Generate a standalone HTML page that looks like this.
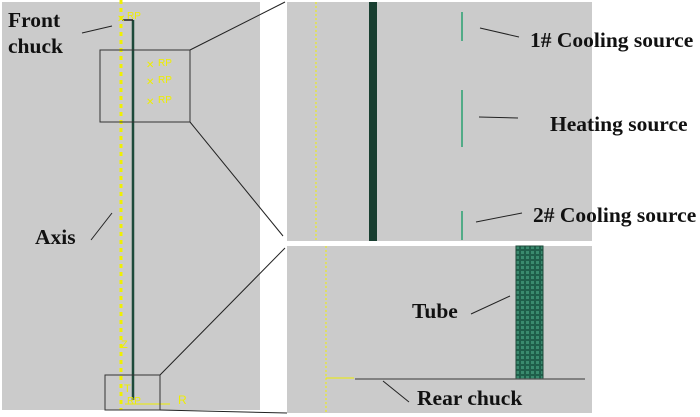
<!DOCTYPE html>
<html><head><style>
body{margin:0;background:#fff;}
svg{display:block;}
text.l{font-family:"Liberation Serif",serif;font-weight:bold;font-size:21.5px;fill:#111;}
text.y{font-family:"Liberation Sans",sans-serif;font-size:10px;fill:#ee0;}
</style></head><body>
<svg width="700" height="417" viewBox="0 0 700 417" xmlns="http://www.w3.org/2000/svg">
<defs>
<pattern id="mesh" width="5" height="5" patternUnits="userSpaceOnUse">
<rect width="5" height="5" fill="#1f5e4a"/><rect x="1" y="1" width="3" height="3" fill="#3a8a6e"/>
</pattern>
</defs>
<rect x="2" y="2" width="258" height="408" fill="#cbcbcb"/>
<rect x="287" y="2" width="305" height="239" fill="#cbcbcb"/>
<rect x="287" y="246" width="305" height="167" fill="#cbcbcb"/>
<!-- left -->
<line x1="121" y1="0" x2="121" y2="410" stroke="#f0f000" stroke-width="3" stroke-dasharray="4,4"/>
<line x1="133" y1="20" x2="133" y2="400" stroke="#1d4a3a" stroke-width="2.5"/>
<line x1="122" y1="20" x2="133" y2="20" stroke="#222" stroke-width="1.5"/>
<text class="y" x="127" y="19">RP</text>
<text class="y" x="117" y="22">✕</text>
<g fill="#ee0" font-family="Liberation Sans" font-size="10">
<text x="158" y="66">RP</text><text x="158" y="83">RP</text><text x="158" y="103">RP</text>
<text x="146" y="68">✕</text><text x="146" y="85">✕</text><text x="146" y="105">✕</text>
<text x="127" y="404">RP</text><text x="178" y="404" font-size="12">R</text><text x="124" y="392" font-size="11">T</text><text x="121" y="348" font-size="11">Z</text>
</g>
<line x1="125" y1="404" x2="170" y2="404" stroke="#ee0" stroke-width="1"/>
<rect x="100" y="50" width="90" height="72" fill="none" stroke="#333" stroke-width="1"/>
<rect x="105" y="375" width="55" height="35" fill="none" stroke="#333" stroke-width="1"/>
<line x1="190" y1="50" x2="285" y2="2" stroke="#222"/>
<line x1="190" y1="122" x2="283" y2="236" stroke="#222"/>
<line x1="160" y1="375" x2="285" y2="248" stroke="#222"/>
<line x1="160" y1="410" x2="287" y2="413" stroke="#222"/>
<text class="l" x="8" y="27">Front</text>
<text class="l" x="8" y="53">chuck</text>
<line x1="82" y1="33" x2="112" y2="26" stroke="#222"/>
<text class="l" x="35" y="244">Axis</text>
<line x1="91" y1="240" x2="112" y2="213" stroke="#222"/>
<!-- top right -->
<line x1="316" y1="2" x2="316" y2="241" stroke="#f0f000" stroke-width="1" stroke-dasharray="2,2"/>
<rect x="369" y="2" width="8" height="239" fill="#183e30"/>
<g stroke="#2aa070" stroke-width="1.5">
<line x1="462" y1="12" x2="462" y2="41"/><line x1="462" y1="90" x2="462" y2="147"/><line x1="462" y1="211" x2="462" y2="240"/>
</g>
<g stroke="#222"><line x1="480" y1="28" x2="519" y2="37"/><line x1="479" y1="117" x2="518" y2="118"/><line x1="476" y1="222" x2="522" y2="213"/></g>
<text class="l" x="530" y="47">1# Cooling source</text>
<text class="l" x="550" y="131">Heating source</text>
<text class="l" x="533" y="222">2# Cooling source</text>
<!-- bottom right -->
<line x1="326" y1="246" x2="326" y2="413" stroke="#f0f000" stroke-width="1" stroke-dasharray="2,2"/>
<line x1="326" y1="378" x2="354" y2="378" stroke="#ee0" stroke-width="1"/>
<rect x="516" y="246" width="27" height="133" fill="url(#mesh)" stroke="#1d4a3a"/>
<line x1="355" y1="379" x2="585" y2="379" stroke="#555" stroke-width="1.2"/>
<text class="l" x="412" y="318">Tube</text>
<line x1="471" y1="314" x2="510" y2="296" stroke="#222"/>
<text class="l" x="417" y="405">Rear chuck</text>
<line x1="383" y1="381" x2="409" y2="402" stroke="#222"/>
</svg>
</body></html>
